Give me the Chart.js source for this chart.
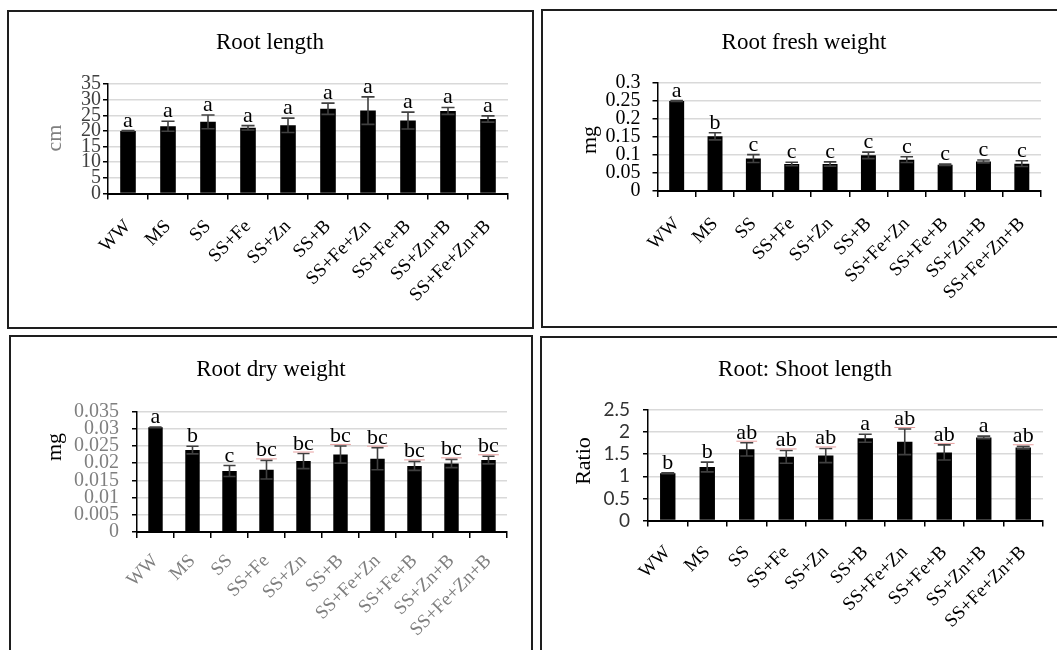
<!DOCTYPE html>
<html><head><meta charset="utf-8">
<script src="https://cdn.jsdelivr.net/npm/chart.js@4.4.1/dist/chart.umd.min.js"></script>
<style>
html,body{margin:0;padding:0;background:#fff;width:1057px;height:650px;overflow:hidden;position:relative}
canvas{position:absolute}
.bx{position:absolute;border:2px solid #1e1e1e;box-sizing:border-box;pointer-events:none}
</style></head><body>
<canvas id="c1"></canvas><canvas id="c2"></canvas><canvas id="c3"></canvas><canvas id="c4"></canvas>
<div class="bx" style="left:7px;top:10px;width:527px;height:319px"></div>
<div class="bx" style="left:541px;top:9px;width:530px;height:319px"></div>
<div class="bx" style="left:9px;top:335px;width:524px;height:400px"></div>
<div class="bx" style="left:540px;top:336px;width:530px;height:400px"></div>
<script>
const categories = ['WW','MS','SS','SS+Fe','SS+Zn','SS+B','SS+Fe+Zn','SS+Fe+B','SS+Zn+B','SS+Fe+Zn+B'];

const lengthValues  = [20.0, 21.5, 22.9, 21.0, 21.8, 27.1, 26.5, 23.3, 26.4, 23.8];
const lengthErrors  = [0.1, 1.6, 2.2, 0.7, 2.3, 1.8, 4.4, 2.7, 1.1, 1.0];
const lengthLetters = ['a','a','a','a','a','a','a','a','a','a'];
const lengthTicks   = [0, 5, 10, 15, 20, 25, 30, 35];
const lengthTickLabels = ['0','5','10','15','20','25','30','35'];

const freshValues  = [0.250, 0.152, 0.090, 0.075, 0.075, 0.099, 0.087, 0.073, 0.082, 0.076];
const freshErrors  = [0.001, 0.010, 0.011, 0.005, 0.006, 0.009, 0.008, 0.002, 0.004, 0.008];
const freshLetters = ['a','b','c','c','c','c','c','c','c','c'];
const freshTicks   = [0, 0.05, 0.1, 0.15, 0.2, 0.25, 0.3];
const freshTickLabels = ['0','0.05','0.1','0.15','0.2','0.25','0.3'];

const dryValues  = [0.0304, 0.0238, 0.0177, 0.0181, 0.0206, 0.0225, 0.0213, 0.0192, 0.0199, 0.0209];
const dryErrors  = [0.0001, 0.0011, 0.0016, 0.0027, 0.0022, 0.0025, 0.0032, 0.0013, 0.0012, 0.0011];
const dryLetters = ['a','b','c','bc','bc','bc','bc','bc','bc','bc'];
const dryTicks   = [0, 0.005, 0.01, 0.015, 0.02, 0.025, 0.03, 0.035];
const dryTickLabels = ['0','0.005','0.01','0.015','0.02','0.025','0.03','0.035'];

const ratioValues  = [1.07, 1.21, 1.61, 1.44, 1.47, 1.86, 1.78, 1.54, 1.88, 1.65];
const ratioErrors  = [0.01, 0.11, 0.15, 0.145, 0.16, 0.09, 0.29, 0.17, 0.03, 0.03];
const ratioLetters = ['b','b','ab','ab','ab','a','ab','ab','a','ab'];
const ratioTicks   = [0, 0.5, 1, 1.5, 2, 2.5];
const ratioTickLabels = ['0','0.5','1','1.5','2','2.5'];

const SERIF = '"Liberation Serif","Times New Roman",serif';
const SANS = 'Lato,"Open Sans",sans-serif';
const XAXIS_H = 125;

function makePanel(p) {
  const cv = document.getElementById(p.id);
  cv.width = p.w; cv.height = p.h;
  cv.style.left = p.x + 'px'; cv.style.top = p.y + 'px';
  cv.style.width = p.w + 'px'; cv.style.height = p.h + 'px';
  const extras = {
    id: 'extras_' + p.id,
    afterDatasetsDraw(chart) {
      const ctx = chart.ctx, ys = chart.scales.y;
      const meta = chart.getDatasetMeta(0);
      ctx.save();
      meta.data.forEach((bar, i) => {
        const x = bar.x, hw = bar.width * 0.42;
        const yt = ys.getPixelForValue(p.values[i] + p.errors[i]);
        const yb = ys.getPixelForValue(p.values[i] - p.errors[i]);
        ctx.strokeStyle = '#404040'; ctx.lineWidth = 1.6;
        ctx.beginPath();
        ctx.moveTo(x, yt); ctx.lineTo(x, yb);
        ctx.moveTo(x - hw, yt); ctx.lineTo(x + hw, yt);
        ctx.moveTo(x - hw, yb); ctx.lineTo(x + hw, yb);
        ctx.stroke();
        ctx.fillStyle = '#000';
        ctx.font = p.letterSize + 'px ' + SERIF;
        ctx.textAlign = 'center'; ctx.textBaseline = 'alphabetic';
        const ly = yt - 4;
        ctx.fillText(p.letters[i], x, ly);
        if (p.redUnderline && p.letters[i].length > 1) {
          const tw = ctx.measureText(p.letters[i]).width;
          ctx.strokeStyle = '#e8a0a0'; ctx.lineWidth = 1;
          ctx.beginPath(); ctx.moveTo(x - tw / 2, ly + 2.5); ctx.lineTo(x + tw / 2, ly + 2.5); ctx.stroke();
        }
      });
      ctx.restore();
    },
    afterDraw(chart) {
      const ctx = chart.ctx;
      ctx.save();
      ctx.fillStyle = '#000';
      ctx.font = p.titleSize + 'px ' + SERIF;
      ctx.textAlign = 'center'; ctx.textBaseline = 'middle';
      ctx.fillText(p.title, p.titleX - p.x, p.titleY - p.y);
      ctx.translate(p.ytX - p.x, p.ytY - p.y);
      ctx.rotate(-Math.PI / 2);
      ctx.fillStyle = p.ytColor;
      ctx.font = p.ytSize + 'px ' + SERIF;
      ctx.fillText(p.ytitle, 0, 0);
      ctx.restore();
    }
  };
  return new Chart(cv, {
    type: 'bar',
    data: { labels: categories, datasets: [{ data: p.values, backgroundColor: '#000', borderWidth: 0, barPercentage: 0.39, categoryPercentage: 1 }] },
    options: {
      responsive: false, animation: false,
      layout: { padding: { left: 0, top: p.plotTop - p.y, right: (p.x + p.w) - p.plotRight, bottom: (p.y + p.h) - p.plotBottom - XAXIS_H } },
      plugins: { legend: { display: false }, tooltip: { enabled: false }, title: { display: false } },
      scales: {
        x: {
          type: 'category', offset: true,
          afterFit: s => { s.height = XAXIS_H; },
          ticks: { autoSkip: false, minRotation: 45, maxRotation: 45, padding: p.xPad, color: p.xColor, font: { family: SERIF, size: p.xSize } },
          grid: { offset: true, drawOnChartArea: false, drawTicks: true, tickLength: 6, color: '#000', tickColor: '#000', lineWidth: 1.5 },
          border: { color: '#000', width: 2 }
        },
        y: {
          min: 0, max: p.ticks[p.ticks.length - 1],
          afterBuildTicks: s => { s.ticks = p.ticks.map(v => ({ value: v })); },
          afterFit: s => { s.width = p.plotLeft - p.x; },
          ticks: { autoSkip: false, padding: p.yPad, color: p.yColor, font: { family: p.yFamily, size: p.ySize }, callback: (v, i) => p.tickLabels[i] },
          grid: { color: '#d9d9d9', lineWidth: 1.5, tickColor: '#000', tickLength: 5, drawTicks: true },
          border: { color: '#000', width: 1.5 }
        }
      }
    },
    plugins: [extras]
  });
}

makePanel({ id: 'c1', x: 7, y: 10, w: 527, h: 319,
  plotLeft: 108, plotRight: 508, plotTop: 84, plotBottom: 193.5,
  values: lengthValues, errors: lengthErrors, letters: lengthLetters, ticks: lengthTicks, tickLabels: lengthTickLabels,
  title: 'Root length', titleX: 270, titleY: 43, titleSize: 23,
  ytitle: 'cm', ytX: 55, ytY: 138, ytSize: 22, ytColor: '#7f7f7f',
  yFamily: SERIF, ySize: 20, yColor: '#404040', yPad: 2, xColor: '#000', xSize: 19, xPad: 16, letterSize: 22, redUnderline: false });

makePanel({ id: 'c2', x: 541, y: 9, w: 516, h: 319,
  plotLeft: 657.5, plotRight: 1041, plotTop: 83, plotBottom: 191,
  values: freshValues, errors: freshErrors, letters: freshLetters, ticks: freshTicks, tickLabels: freshTickLabels,
  title: 'Root fresh weight', titleX: 804, titleY: 43, titleSize: 23,
  ytitle: 'mg', ytX: 590, ytY: 140, ytSize: 22, ytColor: '#000',
  yFamily: SERIF, ySize: 20, yColor: '#000', yPad: 12, xColor: '#000', xSize: 19, xPad: 16, letterSize: 22, redUnderline: false });

makePanel({ id: 'c3', x: 9, y: 335, w: 524, h: 340,
  plotLeft: 137, plotRight: 507, plotTop: 411.5, plotBottom: 532,
  values: dryValues, errors: dryErrors, letters: dryLetters, ticks: dryTicks, tickLabels: dryTickLabels,
  title: 'Root dry weight', titleX: 271, titleY: 370, titleSize: 23,
  ytitle: 'mg', ytX: 55, ytY: 447, ytSize: 22, ytColor: '#000',
  yFamily: SERIF, ySize: 20, yColor: '#7f7f7f', yPad: 13, xColor: '#7f7f7f', xSize: 19, xPad: 12, letterSize: 22, redUnderline: true });

makePanel({ id: 'c4', x: 540, y: 336, w: 517, h: 335,
  plotLeft: 648, plotRight: 1043, plotTop: 410, plotBottom: 520.5,
  values: ratioValues, errors: ratioErrors, letters: ratioLetters, ticks: ratioTicks, tickLabels: ratioTickLabels,
  title: 'Root: Shoot length', titleX: 805, titleY: 370, titleSize: 23,
  ytitle: 'Ratio', ytX: 584, ytY: 461, ytSize: 22, ytColor: '#000',
  yFamily: SANS, ySize: 19, yColor: '#333', yPad: 13, xColor: '#000', xSize: 19, xPad: 15, letterSize: 22, redUnderline: true });
</script>
</body></html>
